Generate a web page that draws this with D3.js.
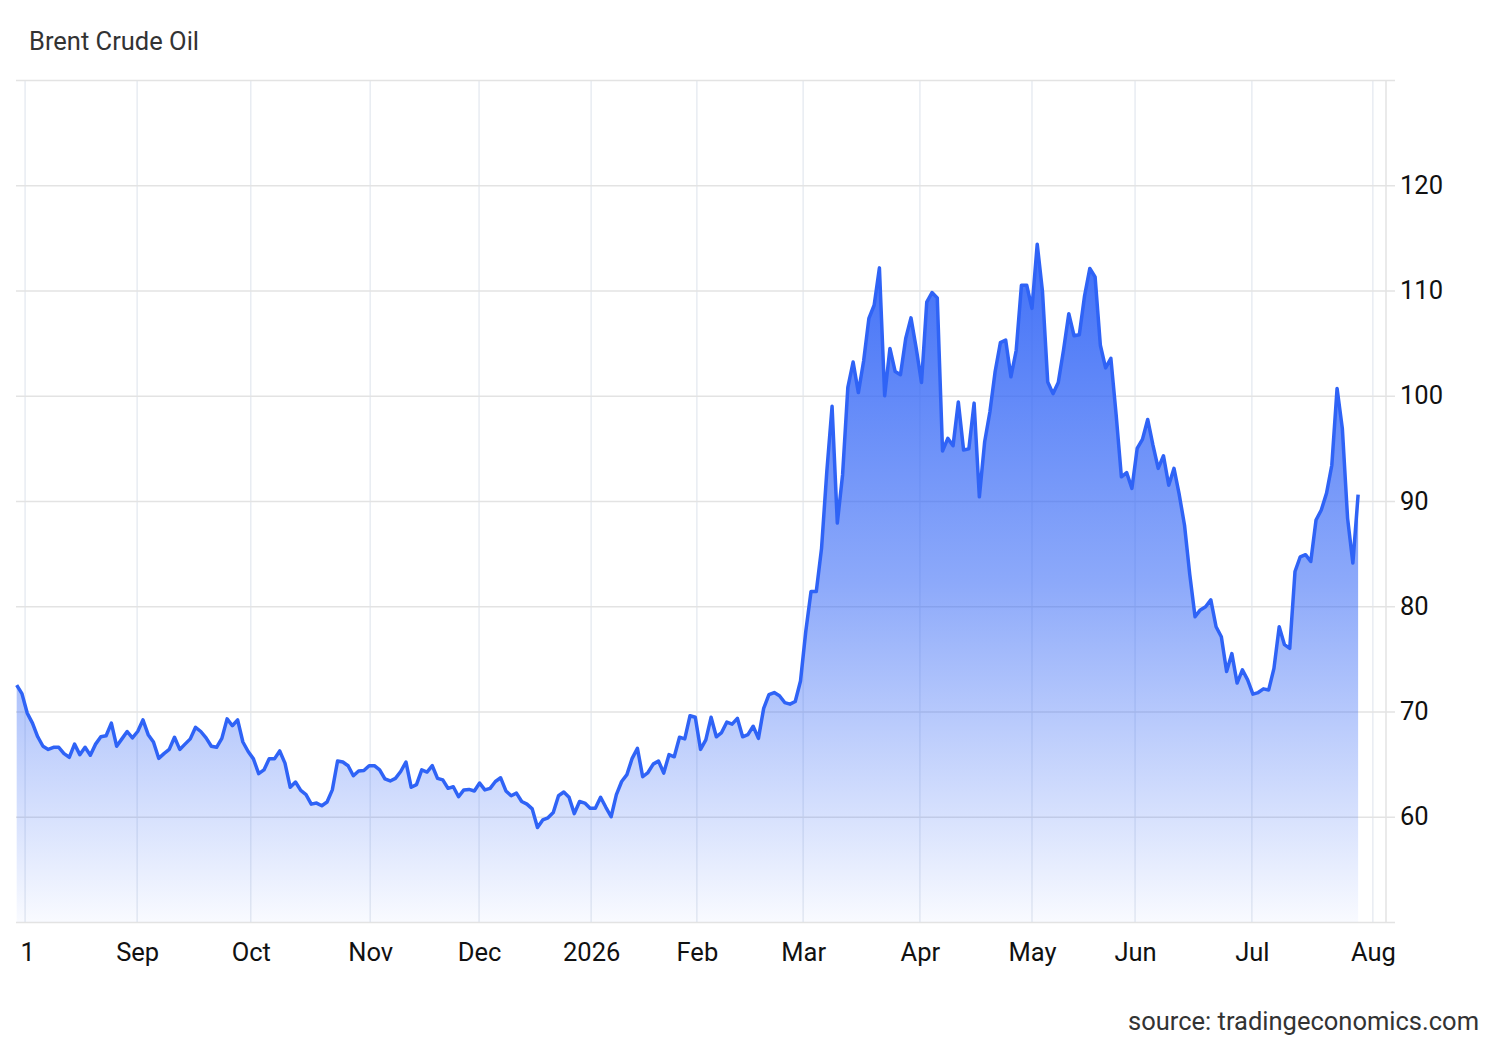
<!DOCTYPE html>
<html>
<head>
<meta charset="utf-8">
<script src="https://cdn.jsdelivr.net/npm/d3@7"></script>
<style>
  body { margin: 0; background: #fff; }
  svg { display: block; font-family: Roboto, "Noto Sans", sans-serif; }
</style>
</head>
<body>
<svg id="chart" width="1500" height="1040"></svg>
<script>
// one close per trading day, Aug 2025 .. late Jul 2026
const prices = [
  72.5, 71.7, 69.85, 68.9, 67.6, 66.7, 66.4, 66.6, 66.6, 66.0, 65.65, 66.9, 65.9, 66.6, 65.85, 66.9,
  67.6, 67.7, 68.9, 66.7, 67.4, 68.1, 67.5, 68.1, 69.2, 67.8, 67.1, 65.55, 66.0, 66.4, 67.55, 66.4,
  66.9, 67.4, 68.5, 68.1, 67.5, 66.7,
  66.6, 67.45, 69.3, 68.65, 69.2, 67.1, 66.2, 65.5, 64.1, 64.45, 65.5, 65.5, 66.25, 65.1, 62.8, 63.3,
  62.5, 62.1, 61.2, 61.3, 61.05, 61.4, 62.55, 65.3, 65.2, 64.85, 63.9, 64.35, 64.4, 64.85, 64.85, 64.45,
  63.6, 63.4, 63.65, 64.3,
  65.2, 62.8, 63.05, 64.45, 64.25, 64.85, 63.65, 63.5, 62.7, 62.85, 61.9, 62.55, 62.6, 62.45, 63.2, 62.55,
  62.7, 63.35, 63.7, 62.45, 62.0, 62.25, 61.45, 61.2, 60.75, 58.98, 59.7, 59.9, 60.4, 62.0, 62.35, 61.85,
  60.3, 61.45, 61.3, 60.8,
  60.8, 61.85, 60.9, 60.0, 62.1, 63.35, 64.0, 65.55, 66.5, 63.8, 64.2, 65.0, 65.3, 64.15, 65.9, 65.7,
  67.55, 67.4, 69.6, 69.45, 66.4, 67.3, 69.45, 67.6, 68.0, 69.0, 68.8, 69.35, 67.6, 67.8, 68.6, 67.45,
  70.3, 71.6, 71.8,
  71.5, 70.85, 70.7, 70.95, 72.9, 77.6, 81.4, 81.4, 85.5, 92.8, 99.0, 87.9, 92.5, 100.8, 103.2, 100.3,
  103.3, 107.35, 108.6, 112.15, 100.0, 104.5, 102.3, 102.0, 105.45, 107.4, 104.5, 101.25, 108.9, 109.8, 109.3, 94.75,
  95.95, 95.25, 99.4, 94.85, 94.95,
  99.3, 90.4, 95.6, 98.45, 102.3, 105.05, 105.3, 101.8, 104.3, 110.5, 110.5, 108.3, 114.4, 109.9, 101.3, 100.2,
  101.25, 104.35, 107.8, 105.7, 105.8, 109.5, 112.1, 111.3, 104.8, 102.65, 103.55, 98.2, 92.3, 92.7, 91.2, 95.0,
  95.85, 97.75, 95.3,
  93.1, 94.3, 91.5, 93.1, 90.6, 87.7, 83.0, 79.0, 79.65, 79.95, 80.6, 78.05, 77.1, 73.8, 75.5, 72.7,
  73.95, 73.0, 71.65, 71.8, 72.15, 72.05, 74.1, 78.05, 76.35, 76.0, 83.3, 84.7, 84.9, 84.25, 88.2, 89.15,
  90.75, 93.4, 100.7, 96.9, 88.35, 84.1, 90.6
];

// month boundaries, in trading-day positions
const monthTicks = [1.6, 22.9, 44.5, 67.2, 87.9, 109.2, 129.3, 149.5, 171.7, 193.0, 212.6, 234.8, 257.8];
const monthLabels = ["1", "Sep", "Oct", "Nov", "Dec", "2026", "Feb", "Mar", "Apr", "May", "Jun", "Jul", "Aug"];

const priceTicks = [50, 60, 70, 80, 90, 100, 110, 120, 130];
const labelledTicks = [60, 70, 80, 90, 100, 110, 120];

const title = "Brent Crude Oil";
const source = "source: tradingeconomics.com";

const svg = d3.select("#chart");

const plotLeft = 16, plotRight = 1386, plotTop = 80, plotBottom = 922;
const fontSize = 25.5;

const x = d3.scaleLinear()
    .domain([-0.13, 260.3])
    .range([plotLeft, plotRight]);

const y = d3.scaleLinear()
    .domain([50, 130])
    .range([plotBottom, plotTop]);

const data = prices.map((v, i) => ({ i, v }));

// gradient for the area
const grad = svg.append("defs").append("linearGradient")
    .attr("id", "areaFill")
    .attr("gradientUnits", "userSpaceOnUse")
    .attr("x1", 0).attr("x2", 0)
    .attr("y1", y(d3.max(prices))).attr("y2", plotBottom);
grad.append("stop").attr("offset", "0%").attr("stop-color", "#2f63f6").attr("stop-opacity", 0.92);
grad.append("stop").attr("offset", "50%").attr("stop-color", "#2f63f6").attr("stop-opacity", 0.55);
grad.append("stop").attr("offset", "100%").attr("stop-color", "#2f63f6").attr("stop-opacity", 0.03);

// vertical gridlines
svg.append("g")
  .selectAll("line")
  .data(monthTicks)
  .join("line")
    .attr("x1", d => x(d)).attr("x2", d => x(d))
    .attr("y1", plotTop).attr("y2", plotBottom)
    .attr("stroke", "#e8ecf2")
    .attr("stroke-width", 1.5);

// horizontal gridlines + right labels
svg.append("g")
    .attr("transform", `translate(${plotLeft},0)`)
    .call(d3.axisRight(y)
      .tickValues(priceTicks)
      .tickSize(plotRight - plotLeft + 9)
      .tickPadding(5)
      .tickFormat(d => labelledTicks.includes(d) ? d : ""))
    .call(g => g.select(".domain").remove())
    .call(g => g.selectAll(".tick line").attr("stroke", "#e3e3e3").attr("stroke-width", 1.5))
    .call(g => g.selectAll(".tick text")
      .attr("fill", "#111")
      .attr("font-size", fontSize)
      .attr("font-family", "Roboto, sans-serif"));

// right axis line
svg.append("line")
    .attr("x1", plotRight).attr("x2", plotRight)
    .attr("y1", plotTop).attr("y2", plotBottom)
    .attr("stroke", "#e3e3e3")
    .attr("stroke-width", 1.5);

// area + line
svg.append("path")
    .datum(data)
    .attr("fill", "url(#areaFill)")
    .attr("d", d3.area()
      .x(d => x(d.i))
      .y0(plotBottom)
      .y1(d => y(d.v)));

svg.append("path")
    .datum(data)
    .attr("fill", "none")
    .attr("stroke", "#2f63f6")
    .attr("stroke-width", 3.5)
    .attr("stroke-linejoin", "round")
    .attr("d", d3.line()
      .x(d => x(d.i))
      .y(d => y(d.v)));

// month labels
svg.append("g")
    .attr("transform", `translate(0,${plotBottom + 8})`)
    .call(d3.axisBottom(x)
      .tickValues(monthTicks)
      .tickSize(0)
      .tickPadding(13)
      .tickFormat((d, i) => monthLabels[i]))
    .call(g => g.select(".domain").remove())
    .call(g => g.selectAll(".tick text")
      .attr("fill", "#111")
      .attr("font-size", fontSize)
      .attr("font-family", "Roboto, sans-serif"));

// first label hugs the left edge
svg.selectAll(".tick text").filter(function() { return this.textContent === "1"; })
    .attr("text-anchor", "start")
    .attr("dx", -5);

svg.append("text")
    .attr("x", 29)
    .attr("y", 50)
    .attr("font-size", fontSize)
    .attr("fill", "#333")
    .text(title);

svg.append("text")
    .attr("x", 1479)
    .attr("y", 1030)
    .attr("text-anchor", "end")
    .attr("font-size", fontSize)
    .attr("fill", "#333")
    .text(source);
</script>
</body>
</html>
